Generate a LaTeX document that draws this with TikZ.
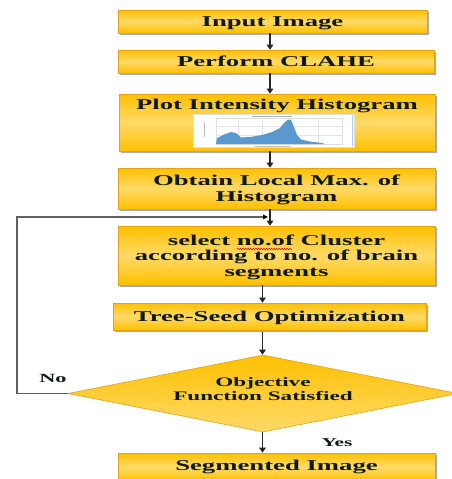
\documentclass[tikz,border=0pt]{standalone}
\usepackage{fontspec}
\usepackage{graphicx}
\setmainfont{Liberation Serif}
\usetikzlibrary{shapes.geometric,shadows,arrows.meta,decorations.pathmorphing}
\definecolor{orA}{RGB}{255,192,0}
\definecolor{yeL}{RGB}{255,218,105}
\definecolor{bord}{RGB}{225,165,20}
\definecolor{txt}{RGB}{15,25,25}
\definecolor{histblue}{RGB}{60,135,200}
\newcommand\W[1]{\raisebox{-2pt}[\height][\depth]{\scalebox{1.78}[1]{\begin{tabular}{@{}c@{}}#1\end{tabular}}}}
\begin{document}
\begin{tikzpicture}[x=1pt,y=-1pt,
  box/.style={draw=bord, line width=0.6pt, top color=orA, bottom color=orA, middle color=yeL,
    inner sep=0pt, text=txt, font=\bfseries\fontsize{15}{15.5}\selectfont,
    drop shadow={shadow xshift=1.6pt, shadow yshift=-1.6pt, fill=black!60, opacity=0.55}},
  lbl/.style={inner sep=0pt, text=txt},
  arr/.style={line width=1.6pt, black!85, -{Triangle[length=5pt,width=6.5pt]}},
  fb/.style={line width=1.1pt, gray!75!black, -{Triangle[length=5pt,width=4.5pt,color=black]}}
]
\useasboundingbox (0,0) rectangle (451,479);
\coordinate (ax) at (270,0);
\coordinate (bx) at (262.5,0);

% boxes
\node[box, minimum width=309, minimum height=23] (inp) at (272.5,21.5) {\W{Input Image}};
\node[box, minimum width=316, minimum height=23] (cla) at (276,61.5) {\W{Perform CLAHE}};
\node[box, minimum width=316, minimum height=57] (plot) at (277,122.5) {};
\node[lbl, font=\bfseries\fontsize{15}{15.5}\selectfont] (plottxt) at (277,104) {\W{Plot Intensity Histogram}};
\node[box, minimum width=317, minimum height=41] (loc) at (276.5,188.5) {\W{Obtain Local Max. of\\Histogram}};
\node[box, minimum width=317, minimum height=59] (sel) at (276.5,255.5) {\W{select no.of Cluster\\according to no. of brain\\segments}};
\node[box, minimum width=313, minimum height=27] (tso) at (269.5,316.5) {\W{Tree-Seed Optimization}};
\node[diamond, aspect=5, inner sep=0pt, minimum width=390, minimum height=77,
  draw=bord, line width=0.6pt, top color=orA, bottom color=yeL] (dia) at (263,393.5) {};
\node[lbl, font=\bfseries\fontsize{13}{14}\selectfont] (diatxt) at (263,389) {\W{Objective\\Function Satisfied}};
\node[box, minimum width=317, minimum height=28] (seg) at (276.5,467) {};
\node[lbl, font=\bfseries\fontsize{15}{15.5}\selectfont] (segtxt) at (276.5,465) {\W{Segmented Image}};

% histogram inset
\node[draw=gray!25, fill=white, line width=0.4pt, minimum width=161, minimum height=33, inner sep=0pt] (hist) at (273.5,130.5) {};
\draw[gray!25, line width=0.3pt] (216,118) rectangle (342,144);
\foreach \gx in {238,262,290,318} \draw[gray!20, line width=0.3pt] (\gx,118) -- (\gx,144);
\foreach \gy in {126,135} \draw[gray!20, line width=0.3pt] (216,\gy) -- (342,\gy);
\fill[histblue!85] (216,144) -- (217,138) -- (224,134.5) -- (231,132) -- (236,133) -- (241,137.5) -- (250,137) -- (262,135) -- (272,132) -- (280,128) -- (284,123) -- (288,119.5) -- (291,120) -- (294,127) -- (297,135) -- (301,139.5) -- (310,141.5) -- (322,143) -- (325,144) -- cycle;
\draw[gray!60, line width=0.5pt] (252,116) -- (292,116);
\draw[gray!50, line width=0.6pt] (204,122) -- (204,137);
\draw[gray!50, line width=0.4pt] (255,146) -- (290,146);
\draw[histblue!40, line width=0.6pt] (352,115) -- (352,146);

% red squiggle
\coordinate (sqA) at (237,249);
\coordinate (sqB) at (292,249);
\draw[red!85!black, line width=0.5pt, decorate, decoration={snake, amplitude=0.7pt, segment length=2.6pt}] (sqA) -- (sqB);

% arrows
\draw[arr] (inp.south -| ax) -- (cla.north -| ax);
\draw[arr] (cla.south -| ax) -- (plot.north -| ax);
\draw[arr] (plot.south -| ax) -- (loc.north -| ax);
\draw[arr] (loc.south -| ax) -- (sel.north -| ax);
\draw[arr] (sel.south -| bx) -- (tso.north -| bx);
\draw[arr] ([yshift=-2pt]tso.south -| bx) -- (dia.north -| bx);
\draw[arr] (dia.south -| bx) -- (seg.north -| bx);

% feedback
\coordinate (fbL) at (17,217);
\coordinate (fbT) at (268,217);
\draw[fb] (dia.west) -| (fbL) -- (fbT);

\node[lbl, font=\bfseries\fontsize{12.5}{13}\selectfont] (no) at (53,378) {\W{No}};
\node[lbl, font=\bfseries\fontsize{12}{13}\selectfont] (yes) at (337,442) {\W{Yes}};
\end{tikzpicture}
\end{document}
